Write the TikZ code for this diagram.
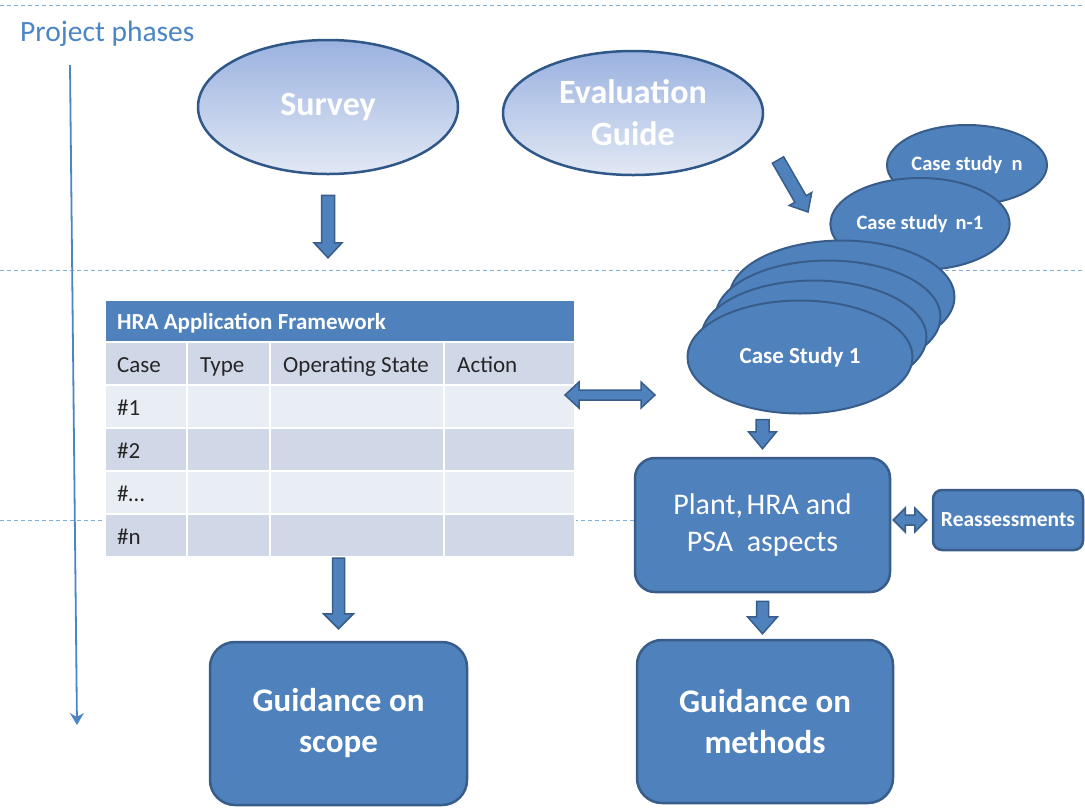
\documentclass[tikz,border=0pt]{standalone}
\usepackage{fontspec}
\setmainfont{Carlito}
\usetikzlibrary{arrows.meta,calc,shapes.geometric}
\definecolor{boxfill}{HTML}{4F81BD}
\definecolor{boxline}{HTML}{385D8A}
\definecolor{elltop}{HTML}{9AB2E0}
\definecolor{ellbot}{HTML}{E2E8F4}
\definecolor{ellline}{HTML}{2F5889}
\definecolor{phasec}{HTML}{4A86C6}
\definecolor{dashc}{HTML}{7FAED6}
\definecolor{rowdark}{HTML}{D0D8E8}
\definecolor{rowlight}{HTML}{E9EDF4}
\definecolor{celltext}{HTML}{262626}
\tikzset{
  dashline/.style={draw=dashc, line width=1pt, dash pattern=on 4pt off 3pt},
  gradell/.style={ellipse, draw=ellline, line width=2.5pt, top color=elltop, bottom color=ellbot,
    inner sep=0pt, text=white, align=center, font=\fontsize{34}{42}\selectfont\bfseries},
  csell/.style={ellipse, draw=boxline, line width=2pt, fill=boxfill, inner sep=0pt,
    minimum width=225pt, minimum height=113pt, text=white, font=\fontsize{20}{24}\selectfont\bfseries},
  bluebox/.style={draw=boxline, fill=boxfill, line width=2.5pt, rounded corners=20pt, inner sep=0pt,
    text=white, align=center},
  cellbox/.style={draw=white, line width=2.5pt},
  celltxt/.style={anchor=base west, inner sep=0pt, text=celltext, font=\fontsize{23}{26}\selectfont},
  ba s/.store in=\bas, ba h/.store in=\bah, ba l/.store in=\bal,
  ba a/.store in=\baa, ba b/.store in=\bab,
  ba s=6.5, ba h=14, ba l=15, ba a=0, ba b=0,
  blockarrow/.style={draw=boxline, fill=boxfill, line width=1.5pt, line join=miter,
    to path={let \p1=(\tikztostart), \p2=(\tikztotarget),
      \n1={atan2(\y2-\y1,\x2-\x1)}, \n2={veclen(\x2-\x1,\y2-\y1)-\bab*1pt}, \n3={\n2-\bal*1pt} in
      ([shift={(\p1)},rotate=\n1]\baa pt,\bas pt)
      -- ([shift={(\p1)},rotate=\n1]\n3,\bas pt)
      -- ([shift={(\p1)},rotate=\n1]\n3,\bah pt)
      -- ([shift={(\p1)},rotate=\n1]\n2,0pt)
      -- ([shift={(\p1)},rotate=\n1]\n3,-\bah pt)
      -- ([shift={(\p1)},rotate=\n1]\n3,-\bas pt)
      -- ([shift={(\p1)},rotate=\n1]\baa pt,-\bas pt) -- cycle}},
  dblarrow/.style={draw=boxline, fill=boxfill, line width=1.5pt, line join=miter,
    to path={let \p1=(\tikztostart), \p2=(\tikztotarget),
      \n1={atan2(\y2-\y1,\x2-\x1)}, \n2={veclen(\x2-\x1,\y2-\y1)-\bab*1pt}, \n3={\n2-\bal*1pt}, \n4={(\baa+\bal)*1pt} in
      ([shift={(\p1)},rotate=\n1]\baa pt,0pt)
      -- ([shift={(\p1)},rotate=\n1]\n4,\bah pt)
      -- ([shift={(\p1)},rotate=\n1]\n4,\bas pt)
      -- ([shift={(\p1)},rotate=\n1]\n3,\bas pt)
      -- ([shift={(\p1)},rotate=\n1]\n3,\bah pt)
      -- ([shift={(\p1)},rotate=\n1]\n2,0pt)
      -- ([shift={(\p1)},rotate=\n1]\n3,-\bah pt)
      -- ([shift={(\p1)},rotate=\n1]\n3,-\bas pt)
      -- ([shift={(\p1)},rotate=\n1]\n4,-\bas pt)
      -- ([shift={(\p1)},rotate=\n1]\n4,-\bah pt) -- cycle}}
}
\begin{document}
\begin{tikzpicture}[x=1pt,y=-1pt]
\useasboundingbox[fill=white] (0,0) rectangle (1085,807);
% phase separators
\draw[dashline] (0,5) -- (1085,5);
\draw[dashline] (0,270) -- (1085,270);
\draw[dashline] (0,520) -- (640,520);
% project phases
\node[anchor=base west, inner sep=0pt, text=phasec, font=\fontsize{29.5}{34}\selectfont] (phtext) at (20,41) {Project phases};
\coordinate (ph1) at (70,65);
\coordinate (ph2) at (77,725);
\draw[draw=phasec, line width=1.8pt, -{Stealth[length=12pt,width=14pt,inset=4pt]}] (ph1) -- (ph2);
% top ellipses
\node[gradell, minimum width=260pt, minimum height=134pt] (survey) at (328,107) {\raisebox{-3pt}{Survey}};
\node[gradell, minimum width=260pt, minimum height=124pt] (evalg) at (633,113) {Evaluation\\Guide};
% case studies
\node[csell, minimum width=160pt, minimum height=80pt, font=\fontsize{20.5}{24}\selectfont\bfseries] (csn) at (967,165) {Case study\hspace{0.45em}n};
\node[csell, minimum width=176pt, minimum height=92pt, font=\fontsize{20.5}{24}\selectfont\bfseries] (csn1) at (920,224) {Case study\hspace{0.4em}n-1};
\node[csell] (csb3) at (842,297) {};
\node[csell] (csb2) at (828,317) {};
\node[csell] (csb1) at (814,337) {};
\node[csell, font=\fontsize{23}{26}\selectfont\bfseries] (cs1) at (800,357) {Case Study 1};
% table
\node[minimum width=470pt, minimum height=257pt, inner sep=0pt] (table) at (340,428.5) {};
\fill[boxfill] (105,300) rectangle (575,342);
\node[anchor=base west, inner sep=0pt, text=white, font=\fontsize{23}{26}\selectfont\bfseries] (thead) at (117,329) {HRA Application Framework};
\foreach \ya/\yb/\c in {342/385/rowdark,385/428/rowlight,428/471/rowdark,471/514/rowlight,514/557/rowdark}{
  \foreach \xa/\xb in {105/187,187/270,270/444,444/575}{
    \filldraw[cellbox, fill=\c] (\xa,\ya) rectangle (\xb,\yb);
  }
}
\draw[white, line width=2.5pt] (105,300) rectangle (575,557);
\node[celltxt] (tcase) at (117,372) {Case};
\node[celltxt] (ttype) at (200,372) {Type};
\node[celltxt] (tstate) at (283,372) {Operating State};
\node[celltxt] (taction) at (457,372) {Action};
\node[celltxt] (r1) at (117,415) {\#1};
\node[celltxt] (r2) at (117,458) {\#2};
\node[celltxt] (r3) at (117,501) {\#\dots};
\node[celltxt] (r4) at (117,544) {\#n};
% boxes
\node[bluebox, minimum width=255pt, minimum height=134pt, font=\fontsize{30}{40}\selectfont] (plant) at (762.5,525) {\raisebox{-3pt}{Plant,\hspace{0.12em}HRA and}\\PSA\ \ aspects};
\node[bluebox, rounded corners=9pt, minimum width=150pt, minimum height=60pt, font=\fontsize{21.5}{24}\selectfont\bfseries] (reass) at (1008,520) {Reassessments};
\node[bluebox, rounded corners=25pt, minimum width=257pt, minimum height=163pt, font=\fontsize{33}{43}\selectfont\bfseries] (gscope) at (338.5,723.5) {\raisebox{-2pt}{Guidance on}\\scope};
\node[bluebox, rounded corners=25pt, minimum width=256pt, minimum height=163pt, font=\fontsize{33}{43}\selectfont\bfseries] (gmeth) at (765,721.5) {\raisebox{-2pt}{Guidance on}\\methods};
% block arrows
\draw[blockarrow, ba a=20, ba b=42, ba s=6.5, ba h=14, ba l=15] (survey.south) to (survey.south |- table.north);
\coordinate (ea1) at (778,160);
\coordinate (ea2) at (808,212);
\draw[blockarrow, ba s=6.5, ba h=13, ba l=15] (ea1) to (ea2);
\coordinate (da1) at (565,395);
\coordinate (da2) at (655,395);
\draw[dblarrow, ba s=5, ba h=13, ba l=14] (da1) to (da2);
\draw[blockarrow, ba a=5, ba b=8, ba s=6.5, ba h=14, ba l=17] (plant.north |- cs1.south) to (plant.north);
\draw[dblarrow, ba a=2, ba b=5, ba s=5, ba h=12, ba l=12] (plant.east |- reass.west) to (reass.west);
\draw[blockarrow, ba a=1, ba b=12, ba s=6, ba h=15, ba l=15] (gscope.north |- table.south) to (gscope.north);
\draw[blockarrow, ba a=8, ba b=5, ba s=6, ba h=15, ba l=17] (plant.south) to (plant.south |- gmeth.north);
\end{tikzpicture}
\end{document}
